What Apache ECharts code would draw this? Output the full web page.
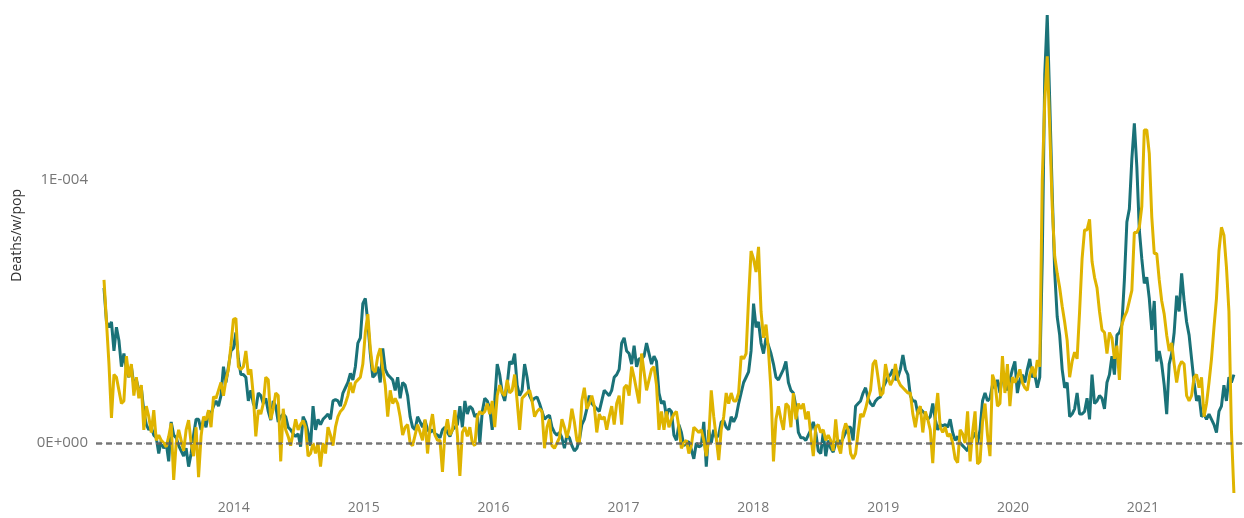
<!DOCTYPE html>
<html>
<head>
<meta charset="utf-8">
<script src="https://cdn.jsdelivr.net/npm/echarts@6/dist/echarts.min.js"></script>
<style>
  html, body { margin: 0; background: #fff; }
  #chart { width: 1244px; height: 518px; }
</style>
</head>
<body>
<div id="chart"></div>
<script>
  // weekly deaths per population, in units of 1E-5, one value per week from the first week of 2013
  const tealE5 = [
    5.9, 4.6, 4.4, 4.6, 3.5, 4.4, 3.9, 2.9, 3.4, 2.8,
    2.5, 2.9, 2.2, 2.4, 2.0, 2.1, 1.2, 0.7, 0.5, 0.6,
    0.3, 0.2, -0.4, 0.1, -0.2, 0.0, -0.7, 0.8, 0.3, 0.2,
    -0.1, -0.3, -0.5, -0.2, -0.9, -0.4, 0.3, 0.9, 0.9, 0.5,
    0.9, 0.6, 1.2, 1.1, 1.4, 1.6, 1.4, 1.8, 2.9, 2.3,
    2.9, 3.5, 3.6, 4.2, 3.2, 2.6, 2.6, 2.5, 1.6, 2.0,
    1.5, 1.3, 1.9, 1.8, 1.5, 1.7, 1.2, 0.87, 1.6, 1.4,
    0.8, 1.0, 1.1, 1.0, 0.6, 0.5, 0.35, 0.25, 0.35, -0.14,
    1.0, 0.8, 0.4, -0.1, 1.4, 0.5, 0.9, 0.7, 0.9, 1.0,
    1.1, 0.9, 1.6, 1.65, 1.6, 1.4, 1.9, 2.1, 2.3, 2.65,
    2.4, 2.9, 3.8, 4.0, 5.3, 5.5, 4.6, 3.4, 2.5, 2.6,
    2.9, 2.3, 3.6, 2.8, 2.6, 2.5, 2.4, 2.0, 2.5, 1.7,
    2.3, 2.2, 1.8, 1.0, 0.6, 0.5, 1.0, 0.8, 0.6, 0.85,
    0.5, 0.4, 0.5, 0.35, 0.3, 0.2, 0.5, 0.6, 0.4, 0.25,
    0.5, 0.6, 0.7, 1.4, 0.6, 1.6, 1.1, 1.4, 1.3, 1.0,
    1.1, 0.0, 1.2, 1.7, 1.6, 1.3, 0.5, 1.6, 3.0, 2.6,
    1.9, 1.6, 2.2, 3.1, 3.0, 3.4, 2.2, 1.8, 2.0, 3.0,
    2.5, 1.8, 1.6, 1.7, 1.75, 1.5, 1.2, 0.9, 1.0, 1.05,
    0.6, 0.4, 0.3, 0.4, 0.2, -0.2, 0.3, 0.2, -0.1, -0.3,
    -0.2, 0.1, 0.7, 0.9, 1.3, 1.8, 1.5, 1.4, 1.3, 1.2,
    1.6, 2.0, 1.9, 1.8, 2.0, 2.5, 2.6, 2.8, 3.8, 4.0,
    3.5, 3.4, 3.0, 3.7, 2.9, 3.2, 3.2, 3.3, 3.8, 3.4,
    3.0, 3.3, 3.1, 1.9, 1.5, 1.6, 1.0, 1.3, 1.2, 0.3,
    0.1, 0.7, 0.4, -0.1, 0.0, 0.05, -0.25, -0.6, 0.0, -0.15,
    -0.1, 0.8, -0.9, 0.5, 0.0, 0.5, 0.2, 0.3, 0.8, 0.85,
    0.6, 0.5, 1.0, 0.8, 1.0, 1.5, 1.9, 2.3, 2.5, 2.7,
    3.5, 5.3, 4.4, 4.6, 3.8, 3.4, 4.0, 3.7, 3.4, 3.0,
    2.5, 2.4, 2.6, 2.8, 3.1, 2.3, 2.0, 1.9, 1.4, 0.4,
    0.2, 0.2, 0.1, 0.3, 0.5, 0.8, 0.4, -0.3, -0.4, 0.4,
    -0.5, 0.1, -0.2, -0.35, 0.0, 0.1, 0.0, 0.2, 0.4, 0.6,
    0.6, 0.1, 1.4, 1.5, 1.6, 1.9, 2.1, 1.7, 1.5, 1.4,
    1.6, 1.7, 1.75, 2.1, 2.3, 2.5, 2.6, 2.8, 2.4, 2.5,
    2.8, 3.35, 2.8, 2.6, 1.8, 1.6, 1.6, 1.1, 1.3, 1.2,
    1.1, 0.9, 1.0, 1.5, 0.9, 0.5, 0.7, 0.65, 0.7, 0.6,
    0.9, 0.4, 0.1, 0.25, 0.0, -0.1, -0.2, -0.3, 0.1, 0.2,
    0.4, 0.0, 0.5, 1.6, 1.9, 1.6, 1.7, 2.2, 2.1, 2.4,
    1.9, 2.6, 2.4, 2.0, 2.4, 2.8, 3.1, 1.9, 2.4, 2.6,
    2.3, 2.8, 3.2, 2.5, 2.6, 2.1, 2.5, 7.0, 14.0, 16.27,
    13.0, 9.5, 6.5, 4.8, 4.1, 2.8, 2.1, 2.3, 1.0, 1.1,
    1.3, 1.9, 1.1, 1.1, 1.2, 1.7, 0.9, 2.6, 1.5, 1.6,
    1.8, 1.7, 1.3, 2.3, 2.6, 3.3, 2.6, 4.1, 4.2, 4.5,
    6.2, 8.4, 8.9, 10.8, 12.15, 10.5, 8.1, 7.0, 6.07, 6.3,
    5.5, 4.3, 5.4, 3.1, 3.5, 3.0, 2.2, 1.1, 3.0, 3.4,
    4.2, 5.6, 5.0, 6.45, 5.4, 4.6, 4.1, 3.2, 2.3, 1.6,
    1.8, 1.0, 1.1, 0.9, 1.1, 0.9, 0.7, 0.4, 1.2, 1.4,
    2.2, 1.6, 2.5, 2.3, 2.6
  ]

  const yellowE5 = [
    6.2, 4.6, 3.0, 0.95, 2.6, 2.5, 2.0, 1.5, 1.6, 3.3,
    2.5, 3.0, 1.8, 2.5, 1.7, 2.2, 0.5, 1.4, 1.0, 0.4,
    1.25, 0.1, 0.3, 0.1, 0.0, -0.15, 0.25, 0.75, -1.4, 0.0,
    0.5, 0.1, -0.3, 0.5, 0.87, 0.0, -0.5, 0.6, -1.3, 0.25,
    1.0, 0.87, 1.25, 0.6, 1.76, 1.7, 2.0, 2.3, 1.8, 2.4,
    2.8, 3.7, 4.7, 4.74, 2.9, 2.8, 2.9, 3.5, 2.6, 2.8,
    1.8, 0.25, 1.25, 1.1, 1.5, 2.5, 2.4, 0.9, 1.3, 1.9,
    1.8, -0.7, 1.3, 0.5, 0.25, -0.1, 0.4, 0.9, 0.5, 0.7,
    0.85, 0.6, -0.5, -0.4, 0.0, -0.4, 0.0, -0.9, 0.0, -0.4,
    0.6, 0.3, -0.1, 0.6, 1.0, 1.2, 1.3, 1.5, 1.8, 2.3,
    1.9, 2.3, 2.4, 2.5, 3.0, 4.2, 4.9, 3.6, 2.8, 2.7,
    3.3, 3.6, 2.8, 2.2, 1.0, 2.0, 1.5, 1.7, 1.5, 1.0,
    0.3, 0.6, 0.7, 0.0, -0.1, 0.3, 0.7, 0.4, 0.1, 0.9,
    -0.4, 0.6, 1.1, 0.3, 0.1, 0.1, -1.1, 0.4, 0.9, 0.3,
    0.5, 1.25, 0.3, -1.25, 0.4, 0.6, 0.25, 0.6, 0.0, -0.1,
    1.0, 1.2, 1.1, 1.2, 1.5, 1.1, 1.6, 0.6, 1.8, 2.2,
    1.9, 1.8, 2.4, 1.9, 2.0, 2.6, 1.6, 0.5, 1.7, 1.8,
    1.9, 2.0, 1.6, 1.0, 1.2, 1.3, 1.2, -0.2, 0.6, 0.9,
    -0.1, -0.2, 0.0, 0.2, 0.9, 0.6, 0.2, 0.6, 1.3, 0.8,
    0.1, 0.0, 1.6, 2.1, 1.3, 1.5, 1.8, 1.4, 0.4, 1.1,
    0.9, 1.0, 0.5, 1.0, 1.4, 0.7, 1.5, 1.8, 0.7, 2.1,
    2.2, 1.8, 2.9, 2.5, 2.0, 1.5, 3.4, 2.7, 2.0, 2.4,
    2.8, 2.9, 2.2, 0.5, 1.2, 0.5, 1.2, 0.6, 0.9, 1.1,
    1.2, 0.6, -0.2, 0.0, 0.1, -0.4, -0.1, 0.6, 0.5, 0.4,
    0.5, 0.1, -0.5, 0.2, 2.0, 1.0, 0.2, -0.65, 0.5, 1.0,
    1.9, 1.5, 1.9, 1.6, 1.6, 1.9, 3.3, 3.2, 3.4, 5.5,
    7.3, 7.0, 6.5, 7.46, 5.0, 4.0, 4.5, 3.5, 2.0, -0.7,
    0.9, 1.4, 0.9, 0.5, 1.5, 1.4, 0.6, 1.9, 0.9, 1.5,
    1.3, 1.5, 0.9, 1.2, 0.3, -0.5, 0.6, 0.7, 0.4, 0.5,
    0.1, 0.3, 0.1, -0.3, 0.9, -0.1, -0.4, 0.4, 0.75, 0.5,
    -0.4, -0.6, -0.4, 0.4, 1.1, 1.0, 1.3, 1.7, 2.0, 3.0,
    3.15, 2.5, 1.8, 1.9, 3.0, 2.5, 2.2, 2.4, 3.0, 2.4,
    2.2, 2.1, 2.0, 1.9, 1.9, 1.1, 0.6, 1.2, 1.4, 0.4,
    1.2, 0.9, 0.5, -0.77, 1.0, 1.9, 0.6, 0.4, 0.6, 0.25,
    0.35, 0.0, -0.6, -0.75, 0.5, 0.35, 0.0, 1.2, -0.7, 0.4,
    1.2, -0.8, -0.7, 0.8, 1.5, 0.3, -0.5, 2.6, 2.3, 1.4,
    1.5, 3.3, 1.9, 3.0, 1.4, 2.5, 2.3, 2.5, 2.8, 2.3,
    2.1, 2.0, 2.6, 2.9, 2.5, 3.15, 2.9, 10.0, 13.0, 14.7,
    12.0, 9.0, 7.1, 6.45, 5.9, 5.2, 4.6, 3.9, 2.5, 3.1,
    3.45, 3.2, 5.0, 7.0, 8.1, 8.1, 8.5, 6.9, 6.3, 5.9,
    5.0, 4.3, 4.2, 3.4, 4.2, 4.0, 3.2, 3.7, 2.4, 4.5,
    4.8, 5.0, 5.4, 5.8, 8.0, 8.0, 8.2, 9.0, 11.9, 11.9,
    11.0, 8.6, 7.2, 7.2, 6.2, 5.4, 4.9, 4.1, 3.5, 3.8,
    3.0, 2.3, 2.9, 3.1, 3.0, 1.8, 1.6, 1.8, 2.5, 2.6,
    2.1, 2.5, 1.0, 1.5, 2.3, 3.2, 4.4, 5.5, 7.3, 8.2,
    7.9, 6.7, 5.0, 0.5, -1.9
  ]

  const startYear = 2013
  const yearTicks = [2014, 2015, 2016, 2017, 2018, 2019, 2020, 2021]
  const yTicks = [0, 1e-4]

  // week i -> fractional year
  let weekToYear = function (i) {
    return startYear + i * 7 / 365.25
  }
  let toPoints = function (arr) {
    return arr.map((v, i) => [weekToYear(i), v * 1e-5])
  }

  let fontFamily = "'Segoe UI', 'Open Sans', 'Noto Sans', sans-serif"

  let myChart = echarts.init(document.getElementById('chart'))
  myChart.setOption({
    animation: false,
    grid: {
      left: 96,
      right: 0,
      top: 9,
      bottom: 22.4,
      containLabel: false
    },
    xAxis: {
      type: 'value',
      min: 2012.9384,
      max: 2021.7787,
      axisLine: { show: false },
      axisTick: { show: false },
      splitLine: { show: false },
      axisLabel: {
        customValues: yearTicks,
        margin: 5,
        color: '#777',
        fontSize: 14,
        fontFamily: fontFamily,
        formatter: function (v) {
          return String(Math.round(v))
        }
      }
    },
    yAxis: {
      type: 'value',
      min: -2e-5,
      max: 16.5e-5,
      interval: 2e-5,
      name: 'Deaths/w/pop',
      nameLocation: 'middle',
      nameGap: 72,
      nameTextStyle: {
        color: '#333',
        fontSize: 14,
        fontFamily: fontFamily,
        padding: [0, 0, 0, 34]
      },
      axisLine: { show: false },
      axisTick: { show: false },
      splitLine: { show: false },
      axisLabel: {
        margin: 8,
        color: '#777',
        fontSize: 15,
        fontFamily: fontFamily,
        formatter: function (v) {
          if (Math.abs(v - yTicks[0]) < 1e-12) return '0E+000'
          if (Math.abs(v - yTicks[1]) < 1e-12) return '1E-004'
          return ''
        }
      }
    },
    series: [
      {
        name: 'teal',
        type: 'line',
        showSymbol: false,
        lineStyle: { color: '#1a7278', width: 3 },
        itemStyle: { color: '#1a7278' },
        data: toPoints(tealE5),
        markLine: {
          silent: true,
          symbol: 'none',
          label: { show: false },
          data: [
            { yAxis: yTicks[1], lineStyle: { color: '#c8c8c8', width: 1, type: [1, 5] } }
          ]
        }
      },
      {
        name: 'yellow',
        type: 'line',
        showSymbol: false,
        lineStyle: { color: '#dfb400', width: 3 },
        itemStyle: { color: '#dfb400' },
        data: toPoints(yellowE5),
        markLine: {
          silent: true,
          symbol: 'none',
          label: { show: false },
          data: [
            { yAxis: yTicks[0], lineStyle: { color: '#5f5f5f', opacity: 0.85, width: 2.5, type: [6, 4] } }
          ]
        }
      }
    ]
  })
</script>
</body>
</html>
